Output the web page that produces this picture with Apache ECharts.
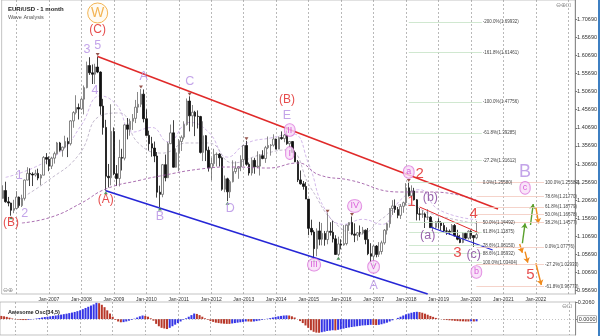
<!DOCTYPE html>
<html><head><meta charset="utf-8">
<script src="https://cdn.jsdelivr.net/npm/echarts@6/dist/echarts.min.js"></script>
<style>html,body{margin:0;padding:0;background:#fff}#c{width:600px;height:336px}</style>
</head><body><div id="c"></div>
<script>
// ---------- DATA ----------
// monthly EUR/USD candles [open, high, low, close], Aug-2005 .. Mar-2020
const y2005=[[1.2120,1.2480,1.2110,1.2335],[1.2335,1.2580,1.2000,1.2025],[1.2025,1.2160,1.1900,1.1990],[1.1990,1.2000,1.1640,1.1790],[1.1790,1.2080,1.1710,1.1840]];
const y2006=[[1.1840,1.2320,1.1830,1.2155],[1.2155,1.2170,1.1860,1.1920],[1.1920,1.2220,1.1880,1.2120],[1.2120,1.2640,1.2060,1.2625],[1.2625,1.2980,1.2620,1.2810],[1.2810,1.2950,1.2460,1.2790],[1.2790,1.2840,1.2460,1.2765],[1.2765,1.2910,1.2720,1.2810],[1.2810,1.2940,1.2620,1.2680],[1.2680,1.2790,1.2480,1.2760],[1.2760,1.3290,1.2760,1.3250],[1.3250,1.3370,1.3060,1.3200]];
const y2007=[[1.3200,1.3280,1.2870,1.3010],[1.3010,1.3270,1.2930,1.3230],[1.3230,1.3410,1.3080,1.3355],[1.3355,1.3680,1.3330,1.3650],[1.3650,1.3680,1.3410,1.3450],[1.3450,1.3550,1.3270,1.3535],[1.3535,1.3850,1.3500,1.3690],[1.3690,1.3800,1.3260,1.3630],[1.3630,1.4280,1.3580,1.4260],[1.4260,1.4530,1.4070,1.4490],[1.4490,1.4970,1.4440,1.4630],[1.4630,1.4740,1.4300,1.4590]];
const y2008=[[1.4590,1.4900,1.4570,1.4860],[1.4860,1.5240,1.4440,1.5180],[1.5180,1.5900,1.5160,1.5790],[1.5790,1.6020,1.5530,1.5590],[1.5590,1.5820,1.5280,1.5550],[1.5550,1.5840,1.5280,1.5750],[1.5750,1.6040,1.5580,1.5610],[1.5610,1.5630,1.4430,1.4670],[1.4670,1.4870,1.3880,1.4080],[1.4080,1.4290,1.2330,1.2730],[1.2730,1.3070,1.2420,1.2690],[1.2690,1.4720,1.2480,1.3970]];
const y2009=[[1.3970,1.4080,1.2760,1.2800],[1.2800,1.3040,1.2460,1.2670],[1.2670,1.3740,1.2450,1.3250],[1.3250,1.3490,1.2890,1.3230],[1.3230,1.4170,1.3170,1.4150],[1.4150,1.4340,1.3750,1.4030],[1.4030,1.4320,1.3850,1.4250],[1.4250,1.4450,1.4010,1.4330],[1.4330,1.4840,1.4200,1.4640],[1.4640,1.5060,1.4480,1.4720],[1.4720,1.5140,1.4640,1.5000],[1.5000,1.5130,1.4220,1.4320]];
const y2010=[[1.4320,1.4580,1.3860,1.3860],[1.3860,1.3990,1.3440,1.3630],[1.3630,1.3820,1.3270,1.3510],[1.3510,1.3690,1.3120,1.3290],[1.3290,1.3400,1.2140,1.2290],[1.2290,1.2470,1.1880,1.2230],[1.2230,1.3070,1.2150,1.3050],[1.3050,1.3330,1.2590,1.2690],[1.2690,1.3680,1.2680,1.3630],[1.3630,1.4160,1.3620,1.3930],[1.3930,1.4280,1.2970,1.2980],[1.2980,1.3500,1.2970,1.3380]];
const y2011=[[1.3380,1.3760,1.2870,1.3690],[1.3690,1.3860,1.3430,1.3810],[1.3810,1.4250,1.3750,1.4160],[1.4160,1.4880,1.4130,1.4810],[1.4810,1.4940,1.3970,1.4400],[1.4400,1.4700,1.4100,1.4500],[1.4500,1.4540,1.3840,1.4390],[1.4390,1.4550,1.4050,1.4380],[1.4380,1.4400,1.3360,1.3390],[1.3390,1.4250,1.3150,1.3850],[1.3850,1.3870,1.3150,1.3450],[1.3450,1.3550,1.2860,1.2960]];
const y2012=[[1.2960,1.3240,1.2620,1.3080],[1.3080,1.3490,1.3000,1.3330],[1.3330,1.3390,1.3000,1.3340],[1.3340,1.3370,1.3000,1.3240],[1.3240,1.3280,1.2330,1.2370],[1.2370,1.2750,1.2290,1.2660],[1.2660,1.2690,1.2040,1.2300],[1.2300,1.2630,1.2130,1.2580],[1.2580,1.3170,1.2560,1.2860],[1.2860,1.3140,1.2800,1.2950],[1.2950,1.3010,1.2660,1.2990],[1.2990,1.3310,1.2870,1.3190]];
const y2013=[[1.3190,1.3590,1.3000,1.3580],[1.3580,1.3710,1.3020,1.3060],[1.3060,1.3110,1.2750,1.2820],[1.2820,1.3240,1.2750,1.3170],[1.3170,1.3240,1.2800,1.2990],[1.2990,1.3420,1.2960,1.3010],[1.3010,1.3340,1.2750,1.3300],[1.3300,1.3450,1.3200,1.3220],[1.3220,1.3570,1.3100,1.3520],[1.3520,1.3830,1.3480,1.3580],[1.3580,1.3620,1.3300,1.3590],[1.3590,1.3890,1.3550,1.3760]];
const y2014=[[1.3760,1.3770,1.3480,1.3480],[1.3480,1.3830,1.3480,1.3800],[1.3800,1.3970,1.3740,1.3770],[1.3770,1.3900,1.3670,1.3870],[1.3870,1.3993,1.3600,1.3630],[1.3630,1.3700,1.3500,1.3690],[1.3690,1.3700,1.3370,1.3390],[1.3390,1.3440,1.3120,1.3130],[1.3130,1.3180,1.2570,1.2630],[1.2630,1.2890,1.2500,1.2520],[1.2520,1.2600,1.2360,1.2450],[1.2450,1.2570,1.2100,1.2100]];
const y2015=[[1.2100,1.2100,1.1100,1.1290],[1.1290,1.1530,1.1100,1.1190],[1.1190,1.1240,1.0460,1.0730],[1.0730,1.1290,1.0520,1.1220],[1.1220,1.1470,1.0820,1.0990],[1.0990,1.1440,1.0820,1.1150],[1.1150,1.1220,1.0810,1.0980],[1.0980,1.1710,1.0850,1.1210],[1.1210,1.1460,1.1090,1.1180],[1.1180,1.1500,1.0900,1.1000],[1.1000,1.1100,1.0560,1.0570],[1.0570,1.1060,1.0520,1.0860]];
const y2016=[[1.0860,1.0990,1.0710,1.0830],[1.0830,1.1380,1.0810,1.0870],[1.0870,1.1390,1.0820,1.1380],[1.1380,1.1460,1.1220,1.1450],[1.1450,1.1620,1.1100,1.1130],[1.1130,1.1430,1.0910,1.1100],[1.1100,1.1190,1.0950,1.1170],[1.1170,1.1370,1.1050,1.1160],[1.1160,1.1330,1.1120,1.1240],[1.1240,1.1260,1.0850,1.0980],[1.0980,1.1300,1.0550,1.0590],[1.0590,1.0880,1.0350,1.0520]];
const y2017=[[1.0520,1.0830,1.0340,1.0800],[1.0800,1.0830,1.0490,1.0570],[1.0570,1.0910,1.0500,1.0650],[1.0650,1.0950,1.0570,1.0890],[1.0890,1.1270,1.0840,1.1240],[1.1240,1.1450,1.1120,1.1420],[1.1420,1.1850,1.1310,1.1840],[1.1840,1.2070,1.1660,1.1910],[1.1910,1.2090,1.1720,1.1810],[1.1810,1.1880,1.1570,1.1650],[1.1650,1.1960,1.1550,1.1900],[1.1900,1.2030,1.1720,1.2000]];
const y2018=[[1.2000,1.2540,1.1920,1.2410],[1.2410,1.2555,1.2170,1.2190],[1.2190,1.2480,1.2150,1.2320],[1.2320,1.2410,1.2060,1.2080],[1.2080,1.2100,1.1510,1.1690],[1.1690,1.1850,1.1510,1.1680],[1.1680,1.1790,1.1580,1.1690],[1.1690,1.1730,1.1300,1.1600],[1.1600,1.1820,1.1520,1.1600],[1.1600,1.1630,1.1300,1.1310],[1.1310,1.1500,1.1220,1.1320],[1.1320,1.1490,1.1270,1.1470]];
const y2019=[[1.1470,1.1570,1.1290,1.1450],[1.1450,1.1490,1.1230,1.1370],[1.1370,1.1450,1.1180,1.1220],[1.1220,1.1320,1.1110,1.1210],[1.1210,1.1260,1.1110,1.1170],[1.1170,1.1410,1.1160,1.1370],[1.1370,1.1410,1.1070,1.1080],[1.1080,1.1250,1.0960,1.0990],[1.0990,1.1110,1.0880,1.0900],[1.0900,1.1180,1.0880,1.1150],[1.1150,1.1180,1.0990,1.1020],[1.1020,1.1240,1.0980,1.1210]];
const y2020=[[1.1210,1.1240,1.0990,1.1090],[1.1090,1.1100,1.0778,1.1030],[1.1030,1.1495,1.0990,1.1116]];

// Awesome Oscillator, one value per candle
const ao2005=[0.040,0.035,0.028,0.018,0.008];
const ao2006=[-0.004,-0.008,-0.011,-0.012,-0.012,-0.010,-0.005,0.002,0.008,0.014,0.020,0.026];
const ao2007=[0.030,0.035,0.040,0.045,0.050,0.056,0.062,0.068,0.075,0.082,0.090,0.100];
const ao2008=[0.110,0.125,0.140,0.155,0.170,0.185,0.205,0.200,0.180,0.150,0.110,0.070];
const ao2009=[0.030,-0.010,-0.030,-0.040,-0.038,-0.030,-0.020,-0.010,0.005,0.020,0.035,0.045];
const ao2010=[0.040,0.030,0.010,-0.020,-0.060,-0.090,-0.110,-0.118,-0.125,-0.110,-0.090,-0.070];
const ao2011=[-0.050,-0.030,-0.010,0.010,0.030,0.050,0.070,0.065,0.050,0.030,0.010,-0.010];
const ao2012=[-0.025,-0.035,-0.045,-0.050,-0.055,-0.058,-0.060,-0.060,-0.055,-0.050,-0.045,-0.040];
const ao2013=[-0.035,-0.030,-0.030,-0.032,-0.030,-0.025,-0.018,-0.010,-0.003,0.005,0.012,0.020];
const ao2014=[0.028,0.035,0.040,0.045,0.047,0.045,0.035,0.020,0.000,-0.025,-0.050,-0.080];
const ao2015=[-0.110,-0.140,-0.160,-0.170,-0.172,-0.165,-0.158,-0.150,-0.145,-0.140,-0.142,-0.135];
const ao2016=[-0.128,-0.120,-0.112,-0.105,-0.100,-0.095,-0.090,-0.085,-0.080,-0.078,-0.075,-0.072];
const ao2017=[-0.073,-0.075,-0.072,-0.065,-0.055,-0.045,-0.030,-0.015,0.000,0.015,0.030,0.045];
const ao2018=[0.060,0.070,0.080,0.088,0.092,0.088,0.080,0.068,0.055,0.040,0.028,0.015];
const ao2019=[0.005,-0.002,-0.008,-0.012,-0.015,-0.018,-0.022,-0.025,-0.027,-0.028,-0.030,-0.030];
const ao2020=[-0.028,-0.030,-0.028];

// price axis tick labels
const priceTicks=[0.9569,1.0069,1.0569,1.1069,1.1569,1.2069,1.2569,1.3069,1.3569,1.4069,1.4569,1.5069,1.5569,1.6069,1.6569,1.7069];
const aoTicks=[0,0.206];
const yearLabels=['2007','2008','2009','2010','2011','2012','2013','2014','2015','2016','2017','2018','2019','2020','2021','2022'];

// moving averages [month, value]
const maSlow=[['2006-03',1.1439],['2007-02',1.1605],['2008-01',1.1992],['2008-10',1.2378],['2009-11',1.2627],['2010-06',1.2737],['2011-09',1.2931],['2012-09',1.2986],['2013-10',1.2958],['2014-09',1.3097],['2015-05',1.2765],['2016-04',1.2627],['2017-11',1.2295],['2018-11',1.2295],['2020-03',1.2074]];
const maFast1=[['2005-09',1.2700],['2006-08',1.2990],['2007-06',1.3460],['2008-01',1.4150],['2008-08',1.4950],['2009-02',1.4700],['2009-08',1.3950],['2010-03',1.4080],['2010-09',1.3680],['2011-05',1.4220],['2011-12',1.3950],['2012-07',1.3260],['2013-02',1.3640],['2013-11',1.3790],['2014-07',1.3900],['2015-01',1.3070],['2015-07',1.1820],['2016-02',1.1400],['2016-09',1.1540],['2017-04',1.1400],['2017-11',1.2080],['2018-06',1.2360],['2019-01',1.1810],['2020-03',1.1530]];
const maFast2=[['2006-02',1.2090],['2007-01',1.2630],['2007-12',1.3320],['2008-08',1.4400],['2009-03',1.4480],['2009-10',1.3650],['2010-07',1.3370],['2011-04',1.3650],['2011-12',1.3650],['2012-09',1.3100],['2013-07',1.3320],['2014-05',1.3460],['2015-02',1.2380],['2015-11',1.1420],['2016-08',1.1130],['2017-04',1.1550],['2018-01',1.1970],['2018-10',1.1700],['2020-03',1.1420]];

// zigzag pivots
const pivotHighDates=['2008-07','2009-11','2011-05','2013-02','2014-05','2015-08','2016-05','2018-02'];
const pivotLowDates=['2005-11','2008-10','2010-06','2012-07','2015-03','2015-12','2017-01'];

// trend lines [from month, from price, to month, to price]
const redTrend=['2008-07',1.6040,'2020-11',1.1826];
const blueTrend=['2008-10',1.2330,'2018-09',0.9476];
const redChannel=['2018-06',1.1881,'2020-04',1.1163];
const blueChannel=['2018-10',1.1328,'2020-09',1.0692];

// projection arrows [from month, from price, to month, to price]
const upArrows=[['2021-08',1.0878,'2021-09',1.1430],['2021-11',1.1383,'2021-12',1.1964]];
const downArrows=[['2021-07',1.0859,'2021-08',1.0618],['2021-09',1.0645,'2021-10',1.0341],['2022-01',1.1873,'2022-02',1.1430],['2022-01',1.0325,'2022-03',0.9725]];

// fibonacci levels
const fib1Names=['-200.0%','-161.8%','-100.0%','-61.8%','-27.2%','0.0%','50.0%','61.8%','78.6%','88.6%','100.0%'];
const fib1Levels=[1.69932,1.61461,1.47756,1.39285,1.31612,1.25580,1.14492,1.11875,1.08150,1.05932,1.03404];
const fib2Names=['100.0%','78.6%','61.8%','50.0%','38.2%','0.0%','-27.2%','-61.8%'];
const fib2Levels=[1.25580,1.21770,1.18779,1.16678,1.14577,1.07776,1.02933,0.96773];

// price tags on the right scale
const tagValues=[1.2069,1.1496,1.11161,1.09837,1.0920];

// wave labels
const orangeText=['W'], orangeDate=['2008-07'], orangePrice=[1.7243];
const redText=['(C)','(B)','(A)','(B)'], redDate=['2008-07','2005-11','2008-10','2014-05'], redPrice=[1.6773,1.1440,1.2075,1.4838];
const lavText=['5','3','4','1','2','A','B','C','D','E','A'];
const lavDate=['2008-07','2008-03','2008-06','2006-02','2006-04','2009-12','2010-06','2011-05','2012-08','2014-05','2017-01'];
const lavPrice=[1.6330,1.6240,1.5095,1.2760,1.1710,1.5474,1.1605,1.5335,1.1826,1.4395,0.9700];
const bigLavText=['B'], bigLavDate=['2021-09'], bigLavPrice=[1.2850];
const bigRedText=['2','1','3','4','5'], bigRedDate=['2018-06','2018-03','2019-08','2020-02','2021-11'], bigRedPrice=[1.2790,1.2017,1.0609,1.1687,1.0001];
const purpleText=['(b)','(a)','(c)'], purpleDate=['2018-10','2018-09','2020-02'], purplePrice=[1.2130,1.1079,1.0554];
const circText=['II','I','III','IV','V','a','b','c'];
const circDate=['2014-06','2014-06','2015-03','2016-06','2017-01','2018-02','2020-03','2021-09'];
const circPrice=[1.4007,1.3370,1.0283,1.1909,1.0227,1.2850,1.0084,1.2408];

// ---------- BUILD ----------
const categories=[];
for(let k=0;k<212;k++){const m=7+k;categories.push((2005+Math.floor(m/12))+'-'+String(m%12+1).padStart(2,'0'));}
const ohlc=[].concat(y2005,y2006,y2007,y2008,y2009,y2010,y2011,y2012,y2013,y2014,y2015,y2016,y2017,y2018,y2019,y2020);
const candleData=ohlc.map(r=>[r[0],r[3],r[2],r[1]]);
const ao=[].concat(ao2005,ao2006,ao2007,ao2008,ao2009,ao2010,ao2011,ao2012,ao2013,ao2014,ao2015,ao2016,ao2017,ao2018,ao2019,ao2020);
const aoData=ao.map((v,i)=>({value:v,itemStyle:{color:(i>0&&v>ao[i-1])?'#3535e6':'#b8382a'}}));
const isJan=(idx,val)=>String(val).endsWith('-01');

const fontF='Arial, "Liberation Sans", sans-serif';
function pts(texts,dates,prices){return texts.map((t,i)=>({name:t,value:[dates[i],prices[i]]}));}
function labelSeries(data,color,size,extra){
  return {type:'scatter',xAxisIndex:0,yAxisIndex:0,z:8,symbolSize:1,itemStyle:{color:'rgba(0,0,0,0)'},silent:true,
    label:Object.assign({show:true,position:'inside',formatter:'{b}',color:color,fontSize:size,fontFamily:fontF},extra||{}),data:data};
}
function seg(a,color,width,sym){
  return [{coord:[a[0],a[1]],lineStyle:{color:color,width:width,type:'solid'},symbol:'none'},{coord:[a[2],a[3]],symbol:sym||'none'}];
}
const catIndex=d=>categories.indexOf(d);
const pivHigh=pivotHighDates.map(d=>[d,ohlc[catIndex(d)][1]]);
const pivLow=pivotLowDates.map(d=>[d,ohlc[catIndex(d)][2]]);

const markLines=[];
markLines.push(seg(redTrend,'#e02a2a',1.6));
markLines.push(seg(blueTrend,'#2626d6',1.6));
markLines.push(seg(redChannel,'#e02a2a',1));
markLines.push(seg(blueChannel,'#2626d6',1.3));
upArrows.forEach(a=>markLines.push(seg(a,'#5aa02c',1.4,'arrow')));
downArrows.forEach(a=>markLines.push(seg(a,'#f08a1c',1.4,'arrow')));
fib1Levels.forEach((v,i)=>{
  const lab={show:true,position:'end',distance:1,formatter:fib1Names[i]+'('+v.toFixed(5)+')',fontSize:4.5,color:'#444',fontFamily:fontF};
  markLines.push([{coord:['2018-02',v],lineStyle:{color:'#c4e2c4',width:0.8,type:'solid'},label:lab},{coord:['2020-05',v],label:lab}]);
});
fib2Levels.forEach((v,i)=>{
  const lab={show:true,position:'end',distance:1,formatter:fib2Names[i]+'('+v.toFixed(5)+')',fontSize:4.5,color:'#444',fontFamily:fontF};
  markLines.push([{coord:['2020-03',v],lineStyle:{color:'#f2c8bc',width:0.8,type:'solid'},label:lab},{coord:['2022-04',v],label:lab}]);
});
const tagBg=['#d9d9d9','#b9a8ea','#ffffff','#b8d4ee','#b9a8ea'];
tagValues.forEach((v,i)=>{
  markLines.push({yAxis:v,lineStyle:{opacity:0},label:{show:true,position:'end',distance:1,formatter:v.toFixed(5),fontSize:5.5,color:'#222',fontFamily:fontF,
    backgroundColor:tagBg[i],borderColor:'#777',borderWidth:0.5,padding:[0,1]}});
});

const chart=echarts.init(document.getElementById('c'),null,{renderer:'canvas'});
chart.setOption({
  animation:false,
  backgroundColor:'#ffffff',
  title:[
    {text:'EUR/USD - 1 month',subtext:'Wave Analysis',left:3,top:1,itemGap:2,
     textStyle:{fontSize:6,fontWeight:'bold',color:'#222',fontFamily:fontF},subtextStyle:{fontSize:5.5,color:'#555',fontFamily:fontF}},
    {text:'Awesome Osc(34,5)',left:3,top:304,textStyle:{fontSize:5.5,fontWeight:'bold',color:'#222',fontFamily:fontF}}
  ],
  grid:[
    {left:0,right:24,top:0,height:294,show:true,borderColor:'#9a9a9a',borderWidth:0.6},
    {left:0,right:24,top:302,height:33,show:true,borderColor:'#9a9a9a',borderWidth:0.6}
  ],
  xAxis:[
    {type:'category',gridIndex:0,data:categories,boundaryGap:true,
     axisLine:{show:false},axisTick:{show:false},
     axisLabel:{show:true,interval:0,margin:3,fontSize:5,color:'#333',fontFamily:fontF,
       formatter:(v)=>{const y=v.slice(0,4);return (v.endsWith('-01')&&yearLabels.indexOf(y)>=0)?'Jan-'+y:'';}},
     splitLine:{show:true,interval:isJan,alignWithLabel:true,lineStyle:{color:'#8a8a8a',type:[2,2],width:0.6}}},
    {type:'category',gridIndex:1,data:categories,boundaryGap:true,
     axisLine:{show:false},axisTick:{show:false},axisLabel:{show:false},
     splitLine:{show:true,interval:isJan,alignWithLabel:true,lineStyle:{color:'#8a8a8a',type:[2,2],width:0.6}}}
  ],
  yAxis:[
    {type:'value',gridIndex:0,position:'right',min:0.9476,max:1.7602,
     axisLine:{show:true,lineStyle:{color:'#777',width:0.8}},
     axisTick:{show:true,length:2,customValues:priceTicks,lineStyle:{color:'#777'}},
     axisLabel:{show:true,margin:2,customValues:priceTicks,fontSize:5.5,color:'#333',fontFamily:fontF,formatter:v=>v.toFixed(5)},
     splitLine:{show:false}},
    {type:'value',gridIndex:1,position:'right',min:-0.2,max:0.215,
     axisLine:{show:true,lineStyle:{color:'#777',width:0.8}},
     axisTick:{show:true,length:2,customValues:aoTicks,lineStyle:{color:'#777'}},
     axisLabel:{show:true,margin:2,customValues:aoTicks,fontSize:5.5,color:'#333',fontFamily:fontF,
       formatter:v=>v===0?'{b|0.0000}':v.toFixed(4),rich:{b:{borderColor:'#555',borderWidth:0.5,padding:[0,1],fontSize:5.5,backgroundColor:'#fff'}}},
     splitLine:{show:false}}
  ],
  series:[
    {type:'line',name:'maFast1',xAxisIndex:0,yAxisIndex:0,data:maFast1,smooth:0.5,symbol:'none',z:1,silent:true,
     lineStyle:{color:'#cdb0e6',width:0.9,type:[3,2]}},
    {type:'line',name:'maFast2',xAxisIndex:0,yAxisIndex:0,data:maFast2,smooth:0.5,symbol:'none',z:1,silent:true,
     lineStyle:{color:'#bdb3c8',width:0.9,type:[3,2]}},
    {type:'candlestick',xAxisIndex:0,yAxisIndex:0,data:candleData,barWidth:2,z:3,silent:true,
     itemStyle:{color:'#ffffff',color0:'#111111',borderColor:'#6a6a6a',borderColor0:'#111111',borderWidth:0.8}},
    {type:'line',name:'maSlow',xAxisIndex:0,yAxisIndex:0,data:maSlow,smooth:0.5,symbol:'none',z:4,silent:true,
     lineStyle:{color:'#a160a8',width:0.9,type:[3,2]},
     markLine:{silent:true,symbol:['none','none'],symbolSize:5,animation:false,label:{show:false},data:markLines}},
    {type:'scatter',xAxisIndex:0,yAxisIndex:0,data:pivHigh,symbol:'triangle',symbolRotate:180,symbolSize:[4,3],symbolOffset:[0,-2],z:5,silent:true,itemStyle:{color:'#7a2a22'}},
    {type:'scatter',xAxisIndex:0,yAxisIndex:0,data:pivLow,symbol:'triangle',symbolSize:[4,3],symbolOffset:[0,2],z:5,silent:true,itemStyle:{color:'#2b7a3a'}},
    Object.assign(labelSeries(pts(orangeText,orangeDate,orangePrice),'#f0a22a',14),{symbol:'circle',symbolSize:20,itemStyle:{color:'#fffaf0',borderColor:'#f0a22a',borderWidth:1}}),
    labelSeries(pts(redText,redDate,redPrice),'#e01f1f',12),
    labelSeries(pts(lavText,lavDate,lavPrice),'#b48de4',12.5),
    labelSeries(pts(bigLavText,bigLavDate,bigLavPrice),'#b48de4',18),
    labelSeries(pts(bigRedText,bigRedDate,bigRedPrice),'#e01f1f',15),
    labelSeries(pts(purpleText,purpleDate,purplePrice),'#7e3d97',12.5),
    labelSeries(pts(circText,circDate,circPrice),'#d23fd2',9,{backgroundColor:'#f7def7',borderColor:'#d868d8',borderWidth:0.8,borderRadius:7,padding:[1,2.5],lineHeight:10}),
    {type:'bar',xAxisIndex:1,yAxisIndex:1,data:aoData,barWidth:2,silent:true,
     markLine:{silent:true,symbol:['none','none'],label:{show:false},data:[{yAxis:0,lineStyle:{color:'#999',type:[1,2],width:0.6}}]}}
  ],
  graphic:[
    {type:'text',left:556,top:2,style:{text:'⊖⊕⊡',fontSize:6,fill:'#888'}},
    {type:'text',left:3,top:287,style:{text:'⊖⊕',fontSize:6,fill:'#888'}},
    {type:'text',left:562,top:303,style:{text:'⊖⊡',fontSize:6,fill:'#888'}},
    {type:'rect',shape:{x:598,y:0,width:2,height:336},style:{fill:'#3d7fc2'}}
  ]
});
</script></body></html>
